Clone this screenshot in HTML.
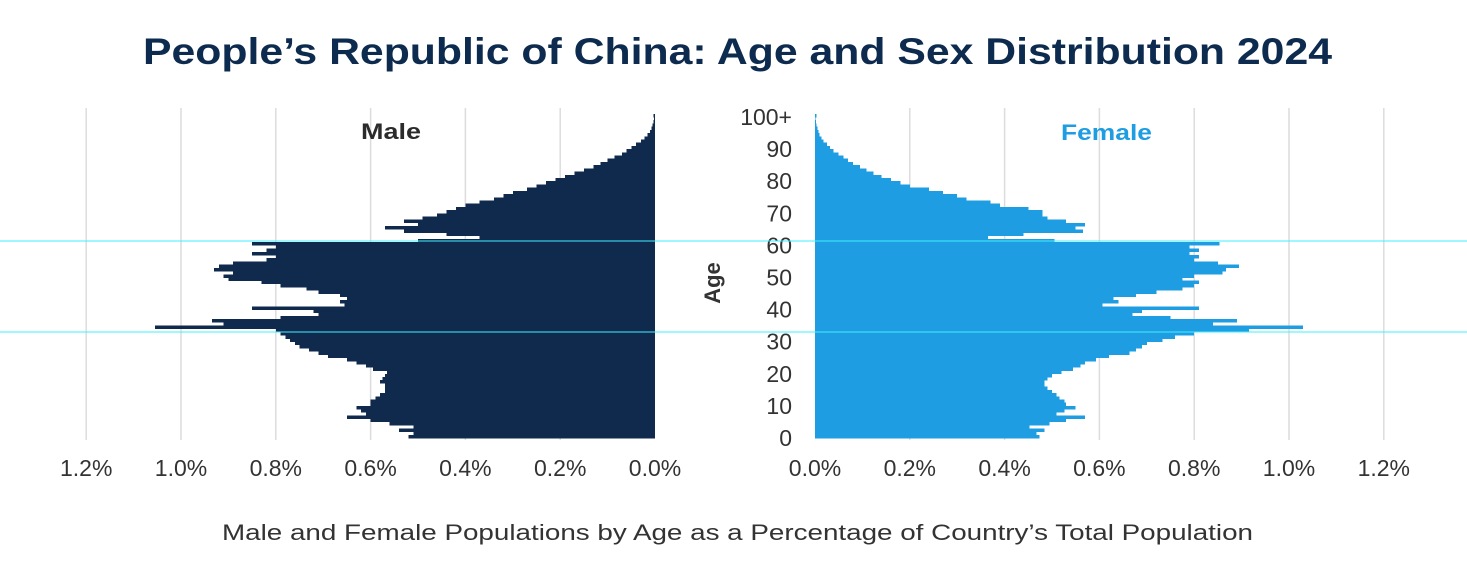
<!DOCTYPE html>
<html><head><meta charset="utf-8">
<style>
html,body{margin:0;padding:0;background:#fff;}
svg{display:block;font-family:"Liberation Sans",sans-serif;}
</style></head>
<body>
<svg id="chart" width="1467" height="573" viewBox="0 0 1467 573" xmlns="http://www.w3.org/2000/svg">
<text x="143" y="64" textLength="1189" lengthAdjust="spacingAndGlyphs" font-size="37" font-weight="bold" fill="#0d2a4f">People’s Republic of China: Age and Sex Distribution 2024</text>
<g id="grid"></g>
<g id="bars"></g>
<g id="ticks"></g>
<text x="361" y="139" textLength="60" lengthAdjust="spacingAndGlyphs" font-size="22" font-weight="bold" fill="#2b2b2b">Male</text>
<text x="1061" y="140" textLength="91" lengthAdjust="spacingAndGlyphs" font-size="22" font-weight="bold" fill="#1e9de2">Female</text>
<text transform="translate(720,283) rotate(-90)" text-anchor="middle" font-size="22" font-weight="bold" fill="#333">Age</text>
<text x="222" y="540" textLength="1031" lengthAdjust="spacingAndGlyphs" font-size="22" fill="#333">Male and Female Populations by Age as a Percentage of Country’s Total Population</text>
<line x1="0" x2="1467" y1="241" y2="241" stroke="#40f0ff" stroke-width="1"/>
<line x1="0" x2="1467" y1="332" y2="332" stroke="#40f0ff" stroke-width="1"/>
</svg>
<script>
const ages = Array.from({length:101},(_,i)=>i);
const maleValues = [0.52,0.51,0.54,0.51,0.56,0.60,0.65,0.61,0.62,0.63,0.60,0.60,0.59,0.58,0.57,0.57,0.57,0.58,0.575,0.57,0.565,0.595,0.61,0.63,0.65,0.69,0.71,0.73,0.75,0.76,0.77,0.78,0.79,0.80,1.055,0.91,0.935,0.79,0.71,0.72,0.85,0.655,0.665,0.65,0.665,0.71,0.735,0.79,0.83,0.90,0.91,0.89,0.93,0.92,0.89,0.82,0.80,0.85,0.82,0.80,0.85,0.50,0.37,0.44,0.53,0.57,0.50,0.53,0.49,0.46,0.44,0.42,0.40,0.37,0.34,0.32,0.30,0.27,0.25,0.23,0.21,0.19,0.17,0.15,0.13,0.115,0.10,0.085,0.07,0.06,0.05,0.04,0.03,0.022,0.016,0.011,0.007,0.005,0.003,0.002,0.003];
const femaleValues = [0.474,0.467,0.484,0.453,0.495,0.53,0.57,0.51,0.526,0.55,0.53,0.526,0.516,0.51,0.50,0.49,0.484,0.484,0.49,0.50,0.52,0.544,0.56,0.57,0.593,0.62,0.663,0.677,0.69,0.70,0.733,0.76,0.80,0.916,1.03,0.84,0.89,0.75,0.67,0.69,0.81,0.607,0.64,0.63,0.677,0.72,0.775,0.80,0.81,0.775,0.80,0.86,0.867,0.895,0.85,0.80,0.81,0.79,0.81,0.79,0.853,0.505,0.365,0.44,0.565,0.55,0.57,0.53,0.49,0.48,0.48,0.45,0.39,0.37,0.32,0.30,0.27,0.24,0.20,0.18,0.16,0.14,0.123,0.109,0.095,0.08,0.07,0.06,0.05,0.039,0.032,0.025,0.018,0.014,0.01,0.007,0.005,0.003,0.002,0.001,0.003];
const xTickValues = [0,0.2,0.4,0.6,0.8,1.0,1.2];
const xTickLabels = ["0.0%","0.2%","0.4%","0.6%","0.8%","1.0%","1.2%"];
const ageTickValues = [0,10,20,30,40,50,60,70,80,90,100];
const ageTickLabels = ["0","10","20","30","40","50","60","70","80","90","100+"];

const NS="http://www.w3.org/2000/svg";
const pxPerPct = 474;
const maleX = v => 655 - v*pxPerPct;
const femaleX = v => 815 + v*pxPerPct;
const ageY = a => 438 - a*3.21;
function mk(tag, attrs, parent){const e=document.createElementNS(NS,tag);for(const k in attrs)e.setAttribute(k,attrs[k]);parent.appendChild(e);return e;}
const grid=document.getElementById('grid'), bars=document.getElementById('bars'), ticks=document.getElementById('ticks');
xTickValues.forEach((v,i)=>{
  if(v>0){
    const g1=mk('line',{x1:maleX(v),x2:maleX(v),y1:108,y2:440,stroke:'#dcdcdc','stroke-width':1.5},grid);
    
    
    const g2=mk('line',{x1:femaleX(v),x2:femaleX(v),y1:108,y2:440,stroke:'#dcdcdc','stroke-width':1.5},grid);
    
    
  }
  const t1=mk('text',{x:maleX(v),y:476,'text-anchor':'middle','font-size':23,fill:'#333'},ticks);
  t1.textContent=xTickLabels[i];
  
  
  const t2=mk('text',{x:femaleX(v),y:476,'text-anchor':'middle','font-size':23,fill:'#333'},ticks);
  t2.textContent=xTickLabels[i];
  
  
});
ageTickValues.forEach((a,i)=>{
  const t=mk('text',{x:792,y:ageY(a)+8,'text-anchor':'end','font-size':23,fill:'#333'},ticks);
  t.textContent=ageTickLabels[i];
  
  
});
ages.forEach((a,i)=>{
  const y=ageY(a+1);
  const m=mk('rect',{x:maleX(maleValues[i]),y:y,width:655-maleX(maleValues[i]),height:3.5,fill:'#0f2a4c','shape-rendering':'crispEdges'},bars);
  
  
  const f=mk('rect',{x:815,y:y,width:femaleX(femaleValues[i])-815,height:3.5,fill:'#1e9de2','shape-rendering':'crispEdges'},bars);
  
  
});
</script>
</body></html>
